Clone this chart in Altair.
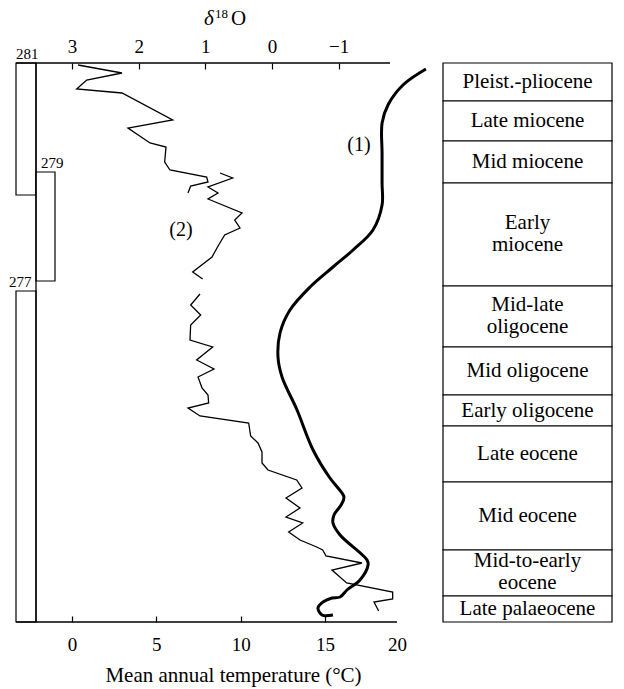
import altair as alt
import pandas as pd

FONT = "Liberation Serif"

# ---- data ----
# relative stratigraphic position (0 = top of column, 559 = base)
epoch_labels = ["Pleist.-pliocene", "Late miocene", "Mid miocene", "Early\nmiocene",
                "Mid-late\noligocene", "Mid oligocene", "Early oligocene", "Late eocene",
                "Mid eocene", "Mid-to-early\neocene", "Late palaeocene"]
epoch_top = [0, 38, 78, 120, 223, 284, 332, 363, 419, 487, 533]
epoch_bottom = [38, 78, 120, 223, 284, 332, 363, 419, 487, 533, 559]

box_labels = ["281", "279", "277"]
box_top = [0, 109, 228]
box_bottom = [132, 218, 559]
box_col = [0, 1, 0]

# curve (1): mean annual temperature
temp_depth = [6, 22, 42, 60, 90, 120, 142, 167, 187, 204, 224, 247, 270, 294, 314, 347, 387,
              415, 425, 434, 442, 452, 460, 472, 497, 502, 517, 527, 534, 535, 539, 545, 552, 552]
temp_value = [20.98, 19.62, 18.73, 18.38, 18.38, 18.38, 18.38, 17.84, 16.66, 15.47, 14.11,
              12.92, 12.33, 12.21, 12.45, 13.34, 14.29, 15.29, 15.77, 16.12, 15.95, 15.53,
              15.47, 15.89, 17.49, 17.55, 17.07, 16.30, 15.89, 15.41, 14.88, 14.58, 14.82, 15.47]

# curve (2): delta 18O, three pieces
d18_depth_1 = [2, 10, 17, 26, 30, 57, 65, 80, 84, 99, 107, 114, 119, 123, 130]
d18_value_1 = [2.91, 2.25, 2.78, 2.93, 2.25, 1.49, 2.16, 1.83, 1.59, 1.61, 1.53, 0.98, 0.96, 1.22, 1.26]
d18_depth_2 = [110, 115, 124, 130, 136, 150, 157, 165, 172, 182, 194, 209, 216]
d18_value_2 = [0.78, 0.59, 0.96, 0.81, 0.96, 0.45, 0.56, 0.48, 0.71, 0.80, 0.90, 1.19, 1.04]
d18_depth_3 = [231, 242, 252, 262, 277, 284, 297, 306, 314, 325, 332, 340, 345, 353, 360, 373,
               380, 389, 400, 407, 417, 425, 435, 445, 454, 460, 469, 477, 484, 487, 493, 500,
               507, 520, 529, 536, 539, 548]
d18_value_3 = [1.08, 1.22, 1.07, 1.22, 1.23, 0.89, 1.13, 0.87, 1.11, 1.05, 0.96, 0.95, 1.26,
               1.08, 0.35, 0.32, 0.21, 0.15, 0.15, 0.06, -0.37, -0.45, -0.21, -0.42, -0.21,
               -0.46, -0.25, -0.42, -0.67, -0.76, -0.81, -1.35, -0.90, -1.12, -1.81, -1.81,
               -1.53, -1.60]

temp_ticks = [0, 5, 10, 15]
d18_ticks = [3, 2, 1, 0, -1]

curve_labels = ["(1)", "(2)"]
curve_label_temp = [17.01, 6.46]
curve_label_depth = [82, 167]

# ---- tables ----
epoch_df = pd.DataFrame({"label": epoch_labels, "top": epoch_top, "bottom": epoch_bottom})
epoch_df["mid"] = (epoch_df["top"] + epoch_df["bottom"]) / 2
box_df = pd.DataFrame({"label": box_labels, "top": box_top, "bottom": box_bottom, "col": box_col})
temp_df = pd.DataFrame({"depth": temp_depth, "temp": temp_value, "i": range(len(temp_depth))})
d18_df = pd.concat([
    pd.DataFrame({"depth": d, "d18": v, "piece": p, "i": range(len(d))})
    for p, (d, v) in enumerate([(d18_depth_1, d18_value_1), (d18_depth_2, d18_value_2),
                                (d18_depth_3, d18_value_3)])
])
lab_df = pd.DataFrame({"label": curve_labels, "temp": curve_label_temp, "depth": curve_label_depth})
dummy = pd.DataFrame({"a": [0]})

y_scale = alt.Scale(domain=[0, 559], reverse=True, nice=False, zero=False)
temp_scale = alt.Scale(domain=[-3.32, 32.01], nice=False, zero=False)
d18_scale = alt.Scale(domain=[-5.10, 3.84], reverse=True, nice=False, zero=False)

temp_axis = alt.Axis(
    orient="bottom", values=temp_ticks + [19.27],
    labelExpr="datum.value > 19 ? '20' : datum.label",
    tickOpacity={"condition": {"test": "datum.value > 19", "value": 0}, "value": 1},
    domain=False, offset=-6, tickSize=6, tickColor="black", tickWidth=1.2,
    labelPadding=13, labelFont=FONT, labelFontSize=19, labelColor="black",
    title="Mean annual temperature (°C)", titleFont=FONT, titleFontSize=21,
    titleFontWeight="normal", titleColor="black", titlePadding=10,
    titleX=217, titleAlign="center", titleAnchor="start", grid=False)

d18_axis = alt.Axis(
    orient="top", values=d18_ticks, domain=False, offset=-6, tickSize=6,
    tickColor="black", tickWidth=1.2, labelPadding=7, labelFont=FONT, labelFontSize=19,
    labelColor="black", title=None, grid=False)

temp_line = alt.Chart(temp_df).mark_line(
    color="black", strokeWidth=3, interpolate="catmull-rom"
).encode(
    x=alt.X("temp:Q", scale=temp_scale, axis=temp_axis),
    y=alt.Y("depth:Q", scale=y_scale, axis=None),
    order="i:Q",
)

d18_line = alt.Chart(d18_df).mark_line(color="black", strokeWidth=1.3).encode(
    x=alt.X("d18:Q", scale=d18_scale, axis=d18_axis),
    y=alt.Y("depth:Q", scale=y_scale, axis=None),
    detail="piece:N",
    order="i:Q",
)

curve_text = alt.Chart(lab_df).mark_text(
    font=FONT, fontSize=20, align="center", baseline="middle", color="black"
).encode(
    x=alt.X("temp:Q", scale=temp_scale, axis=None),
    y=alt.Y("depth:Q", scale=y_scale, axis=None),
    text="label:N",
)

table_rect = alt.Chart(epoch_df).mark_rect(fill="white", stroke="black", strokeWidth=1.2).encode(
    x=alt.value(427), x2=alt.value(596),
    y=alt.Y("top:Q", scale=y_scale, axis=None), y2="bottom:Q",
)
table_text = alt.Chart(epoch_df).transform_calculate(
    ytext="indexof(datum.label, '\\n') >= 0 ? datum.mid - 12 : datum.mid"
).mark_text(
    font=FONT, fontSize=21, align="center", baseline="middle", lineBreak="\n",
    lineHeight=22, color="black"
).encode(
    x=alt.value(511.5),
    y=alt.Y("ytext:Q", scale=y_scale, axis=None),
    text="label:N",
)

box_rect = alt.Chart(box_df).transform_calculate(
    x0="datum.col * 20", x1="datum.col * 20 + (datum.col == 1 ? 19 : 20)"
).mark_rect(fill="white", stroke="black", strokeWidth=1.2).encode(
    x=alt.X("x0:Q", scale=None), x2="x1:Q",
    y=alt.Y("top:Q", scale=y_scale, axis=None), y2="bottom:Q",
)
box_text = alt.Chart(box_df).transform_calculate(
    lx="datum.col == 1 ? 25 : (datum.label == '277' ? -7 : 0)"
).mark_text(font=FONT, fontSize=15, align="left", baseline="alphabetic", dy=-4,
            color="black").encode(
    x=alt.X("lx:Q", scale=None),
    y=alt.Y("top:Q", scale=y_scale, axis=None),
    text="label:N",
)

top_line = alt.Chart(dummy).mark_rule(color="black", strokeWidth=1.3).encode(
    x=alt.value(0), x2=alt.value(374), y=alt.value(0))
bottom_line = alt.Chart(dummy).mark_rule(color="black", strokeWidth=1.3).encode(
    x=alt.value(0), x2=alt.value(381), y=alt.value(559))
left_line = alt.Chart(dummy).mark_rule(color="black", strokeWidth=1.3).encode(
    x=alt.value(20), y=alt.value(0), y2=alt.value(559))

t_delta = alt.Chart(dummy).mark_text(text="δ", font=FONT, fontSize=21, fontStyle="italic",
                                     align="left", baseline="alphabetic", color="black").encode(
    x=alt.value(188), y=alt.value(-38))
t_18 = alt.Chart(dummy).mark_text(text="18", font=FONT, fontSize=13, align="left",
                                  baseline="alphabetic", color="black").encode(
    x=alt.value(199), y=alt.value(-45))
t_O = alt.Chart(dummy).mark_text(text="O", font=FONT, fontSize=21, align="left",
                                 baseline="alphabetic", color="black").encode(
    x=alt.value(215), y=alt.value(-38))

chart = alt.layer(
    box_rect, left_line, top_line, bottom_line, table_rect, table_text, box_text,
    temp_line, d18_line, curve_text, t_delta, t_18, t_O
).resolve_scale(x="independent").properties(
    width=596, height=559,
    autosize=alt.AutoSizeParams(type="none"),
    padding={"left": 16, "top": 63, "right": 12, "bottom": 67},
    background="white",
).configure_view(stroke=None)

chart.save("out.html", embed_options={"renderer": "svg", "actions": False})
